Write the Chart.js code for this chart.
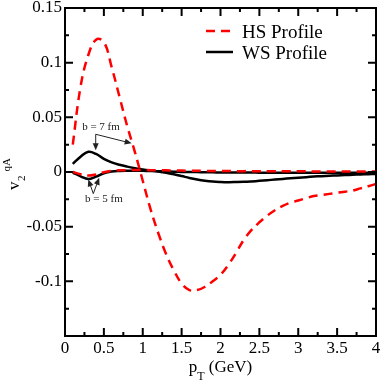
<!DOCTYPE html>
<html><head><meta charset="utf-8">
<script src="https://cdn.jsdelivr.net/npm/chart.js@4/dist/chart.umd.min.js"></script>
<style>html,body{margin:0;padding:0;background:#fff}canvas{display:block}</style>
</head><body>
<canvas id="c" width="382" height="382"></canvas>
<script>
// ---- data ----
const pT = [0.1,0.2,0.3,0.4,0.5,0.6,0.7,0.8,0.9,1.0,
            1.1,1.2,1.3,1.4,1.5,1.6,1.7,1.8,1.9,2.0,
            2.1,2.2,2.3,2.4,2.5,2.6,2.7,2.8,2.9,3.0,
            3.1,3.2,3.3,3.4,3.5,3.6,3.7,3.8,3.9,4.0];
const hsB7 = [0.025,0.078,0.107,0.121,0.119,0.096,0.069,0.042,0.018,-0.008,
              -0.034,-0.056,-0.075,-0.090,-0.102,-0.108,-0.108,-0.105,-0.100,-0.094,
              -0.085,-0.074,-0.062,-0.053,-0.046,-0.040,-0.035,-0.031,-0.028,-0.026,
              -0.024,-0.022,-0.021,-0.020,-0.019,-0.018,-0.017,-0.015,-0.013,-0.011];
const hsB5 = [0.000,-0.0020,-0.0033,-0.0022,-0.0002,0.0010,0.0015,0.0017,0.0018,0.0018,
              0.0017,0.0016,0.0015,0.0014,0.0013,0.0012,0.0011,0.0010,0.0010,0.0009,
              0.0009,0.0008,0.0008,0.0008,0.0007,0.0007,0.0007,0.0006,0.0006,0.0006,
              0.0006,0.0005,0.0005,0.0005,0.0005,0.0005,0.0004,0.0004,0.0004,0.0004];
const wsB7 = [0.0075,0.0140,0.0185,0.0165,0.0120,0.0088,0.0066,0.0049,0.0035,0.0023,
              0.0013,0.0004,-0.0007,-0.0021,-0.0037,-0.0054,-0.0068,-0.0079,-0.0087,-0.0091,
              -0.0093,-0.0092,-0.0090,-0.0086,-0.0081,-0.0075,-0.0069,-0.0063,-0.0057,-0.0052,
              -0.0047,-0.0042,-0.0038,-0.0034,-0.0031,-0.0028,-0.0025,-0.0022,-0.0020,-0.0018];
const wsB5 = [-0.0005,-0.0040,-0.0065,-0.0042,-0.0012,0.0004,0.0010,0.0012,0.0012,0.0011,
              0.0009,0.0007,0.0005,0.0003,0.0001,0.0000,-0.0001,-0.0002,-0.0003,-0.0004,
              -0.0004,-0.0005,-0.0005,-0.0005,-0.0006,-0.0006,-0.0006,-0.0006,-0.0006,-0.0006,
              -0.0006,-0.0006,-0.0006,-0.0006,-0.0006,-0.0006,-0.0006,-0.0006,-0.0006,-0.0006];
const xTickValues = [0,0.5,1,1.5,2,2.5,3,3.5,4];
const xTickLabels = ['0','0.5','1','1.5','2','2.5','3','3.5','4'];
const yTickValues = [-0.15,-0.1,-0.05,0,0.05,0.1,0.15];
const yTickLabels = ['','-0.1','-0.05','0','0.05','0.1','0.15'];
const legendLabels = ['HS Profile','WS Profile'];
const annoLabels = ['b = 7 fm','b = 5 fm'];

const SERIF = "'Liberation Serif','DejaVu Serif',serif";
const RED = '#ff0000', BLACK = '#000000';
const DASH = [9,6];

const toPts = vals => pT.map((x,i)=>({x:x, y:vals[i]}));

// annotation geometry in data units
const annotations = [
  {text:annoLabels[0], at:[0.463,0.0409], from:[0.395,0.0345], to:[[0.395,0.0200],[0.858,0.0262]]},
  {text:annoLabels[1], at:[0.500,-0.0250], from:[0.364,-0.0198], to:[[0.300,-0.0068],[0.440,-0.0053]]}
];

const framePlugin = {
  id:'frame',
  afterDatasetsDraw(chart){
    const {ctx, chartArea:a, scales:{x,y}} = chart;
    ctx.save();
    ctx.strokeStyle = BLACK; ctx.lineWidth = 2;
    ctx.beginPath();
    const vt = (v,len)=>{ const p = x.getPixelForValue(v);
      ctx.moveTo(p,a.bottom); ctx.lineTo(p,a.bottom-len);
      ctx.moveTo(p,a.top); ctx.lineTo(p,a.top+len); };
    const ht = (v,len)=>{ const p = y.getPixelForValue(v);
      ctx.moveTo(a.left,p); ctx.lineTo(a.left+len,p);
      ctx.moveTo(a.right,p); ctx.lineTo(a.right-len,p); };
    xTickValues.forEach((v,i)=>{ vt(v,8); if(i<xTickValues.length-1) vt((v+xTickValues[i+1])/2,4); });
    yTickValues.forEach((v,i)=>{ ht(v,8); if(i<yTickValues.length-1) ht((v+yTickValues[i+1])/2,4); });
    ctx.stroke();
    ctx.strokeRect(a.left, a.top, a.right-a.left, a.bottom-a.top);

    // annotations
    ctx.fillStyle = '#222'; ctx.strokeStyle = '#222'; ctx.lineWidth = 1;
    ctx.font = '11px ' + SERIF; ctx.textAlign='center'; ctx.textBaseline='middle';
    annotations.forEach(an=>{
      ctx.fillText(an.text, x.getPixelForValue(an.at[0]), y.getPixelForValue(an.at[1]));
      const x0 = x.getPixelForValue(an.from[0]), y0 = y.getPixelForValue(an.from[1]);
      an.to.forEach(t=>{
        const x1 = x.getPixelForValue(t[0]), y1 = y.getPixelForValue(t[1]);
        const ang = Math.atan2(y1-y0,x1-x0), hl = 7, hw = 3;
        ctx.beginPath(); ctx.moveTo(x0,y0);
        ctx.lineTo(x1-Math.cos(ang)*hl*0.8, y1-Math.sin(ang)*hl*0.8); ctx.stroke();
        ctx.beginPath(); ctx.moveTo(x1,y1);
        ctx.lineTo(x1-Math.cos(ang)*hl+Math.sin(ang)*hw, y1-Math.sin(ang)*hl-Math.cos(ang)*hw);
        ctx.lineTo(x1-Math.cos(ang)*hl-Math.sin(ang)*hw, y1-Math.sin(ang)*hl+Math.cos(ang)*hw);
        ctx.closePath(); ctx.fill();
      });
    });

    // legend
    const lx = a.left + 141, ly1 = a.top + 23, ly2 = a.top + 44;
    ctx.lineWidth = 2.5;
    ctx.strokeStyle = RED; ctx.setLineDash(DASH);
    ctx.beginPath(); ctx.moveTo(lx,ly1); ctx.lineTo(lx+24,ly1); ctx.stroke();
    ctx.setLineDash([]); ctx.strokeStyle = BLACK;
    ctx.beginPath(); ctx.moveTo(lx,ly2); ctx.lineTo(lx+27,ly2); ctx.stroke();
    ctx.fillStyle = BLACK; ctx.font = '19px ' + SERIF; ctx.textAlign='left'; ctx.textBaseline='alphabetic';
    ctx.fillText(legendLabels[0], lx+36, ly1+7);
    ctx.fillText(legendLabels[1], lx+36, ly2+7);

    // axis titles
    ctx.font = '17px ' + SERIF;
    const cx = (a.left+a.right)/2;
    const wp = ctx.measureText('p').width;
    ctx.font = '12px ' + SERIF; const wT = ctx.measureText('T').width;
    ctx.font = '17px ' + SERIF; const wG = ctx.measureText(' (GeV)').width;
    let sx = cx - (wp+wT+wG)/2;
    ctx.fillText('p', sx, 372); sx += wp;
    ctx.font = '12px ' + SERIF; ctx.fillText('T', sx, 380); sx += wT;
    ctx.font = '17px ' + SERIF; ctx.fillText(' (GeV)', sx, 372);

    ctx.save();
    ctx.translate(18.5, 190); ctx.rotate(-Math.PI/2);
    ctx.font = '17px ' + SERIF; ctx.fillText('v', 0, 0);
    let tx = ctx.measureText('v').width + 0.5;
    ctx.font = '11px ' + SERIF; ctx.fillText('2', tx, 6.5);
    tx += ctx.measureText('2').width + 4;
    ctx.fillText('qA', tx, -8.5);
    ctx.restore();
    ctx.restore();
  }
};

const lineDs = (label, vals, color, dash) => ({
  label, data: toPts(vals), borderColor: color, borderWidth: 2.5,
  borderDash: dash, pointRadius: 0, tension: 0.4, fill: false
});

new Chart(document.getElementById('c'), {
  type: 'line',
  data: { datasets: [
    lineDs(legendLabels[0], hsB7, RED, DASH),
    lineDs(legendLabels[0], hsB5, RED, DASH),
    lineDs(legendLabels[1], wsB7, BLACK, []),
    lineDs(legendLabels[1], wsB5, BLACK, [])
  ]},
  options: {
    responsive: false, animation: false, devicePixelRatio: 1,
    layout: { padding: { top: 8, right: 6, left: 0, bottom: 0 } },
    plugins: { legend: { display: false }, tooltip: { enabled: false } },
    scales: {
      x: {
        type: 'linear', min: 0, max: 4,
        grid: { display: false, drawTicks: false },
        border: { display: false },
        ticks: { stepSize: 0.5, padding: 2, color: BLACK, maxRotation: 0, autoSkip: false,
          font: { family: SERIF, size: 17 },
          callback: (v, i) => xTickLabels[i] !== undefined ? xTickLabels[i] : '' },
        afterFit: s => { s.height = 46; s.paddingLeft = 0; s.paddingRight = 0; }
      },
      y: {
        type: 'linear', min: -0.15, max: 0.15,
        grid: { display: false, drawTicks: false },
        border: { display: false },
        ticks: { stepSize: 0.05, padding: 3, color: BLACK, autoSkip: false,
          font: { family: SERIF, size: 17 },
          callback: (v, i) => yTickLabels[i] !== undefined ? yTickLabels[i] : '' },
        afterFit: s => { s.width = 65; s.paddingTop = 0; s.paddingBottom = 0; }
      }
    }
  },
  plugins: [framePlugin]
});
</script>
</body></html>
